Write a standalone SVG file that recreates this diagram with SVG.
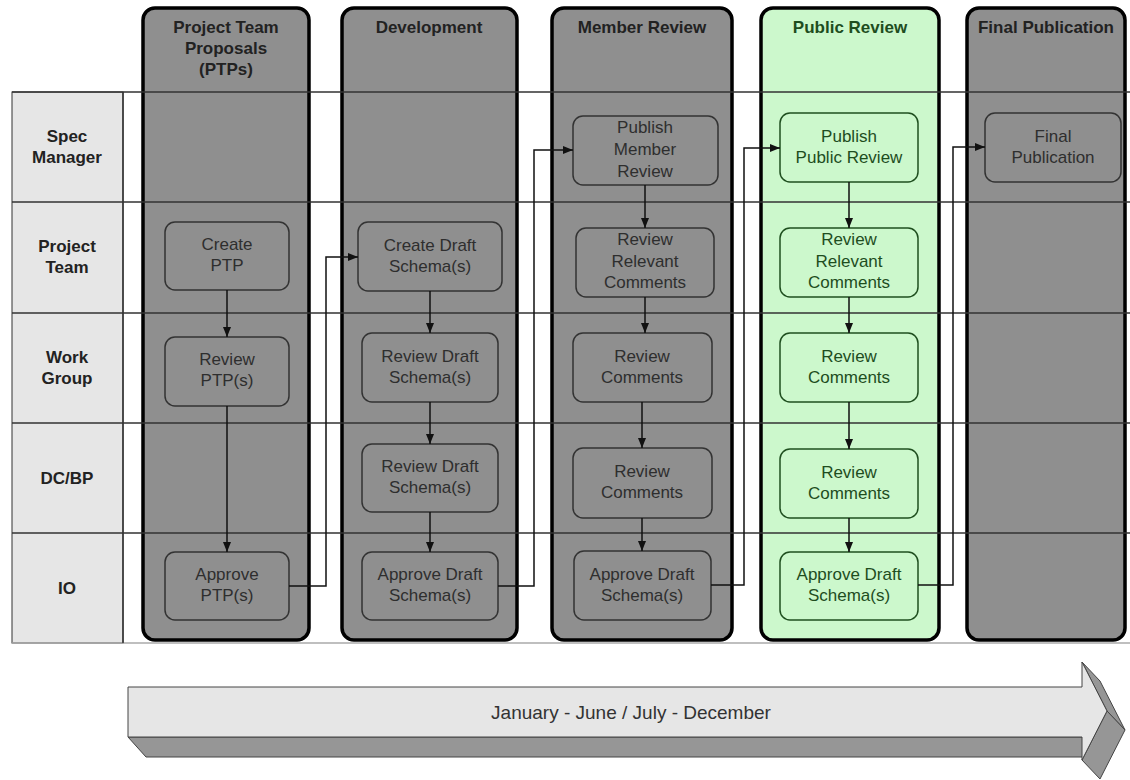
<svg xmlns="http://www.w3.org/2000/svg" width="1130" height="780" viewBox="0 0 1130 780">
<style>
.col{fill:#8f8f8f;stroke:#000;stroke-width:3.5}
.colg{fill:#ccf8cc;stroke:#000;stroke-width:3.5}
.node{fill:#8f8f8f;stroke:#333;stroke-width:1.5}
.nodeg{fill:#ccf8cc;stroke:#1f4f1f;stroke-width:1.5}
.lane{stroke:#333;stroke-width:1.5;fill:none}
.hd{font-family:"Liberation Sans",Arial,sans-serif;font-size:17px;font-weight:bold;fill:#222;text-anchor:middle}
.hdg{font-family:"Liberation Sans",Arial,sans-serif;font-size:17px;font-weight:bold;fill:#1e4d1e;text-anchor:middle}
.lb{font-family:"Liberation Sans",Arial,sans-serif;font-size:17px;font-weight:bold;fill:#222;text-anchor:middle}
.t{font-family:"Liberation Sans",Arial,sans-serif;font-size:17px;fill:#2e2e2e;text-anchor:middle}
.tg{font-family:"Liberation Sans",Arial,sans-serif;font-size:17px;fill:#1e4d1e;text-anchor:middle}
.cn{fill:none;stroke:#111;stroke-width:1.5}
</style>
<defs>
<marker id="arr" markerWidth="10" markerHeight="8" refX="10" refY="4" orient="auto" markerUnits="userSpaceOnUse"><path d="M0,0 L10,4 L0,8 z" fill="#111"/></marker>
</defs>
<rect x="0" y="0" width="1130" height="780" fill="#fff"/>

<g id="lane-labels">
<rect x="12" y="92" width="111" height="551" fill="#e6e6e6" stroke="#333" stroke-width="1"/>
<text class="lb" x="67" y="142">Spec</text>
<text class="lb" x="67" y="163">Manager</text>
<text class="lb" x="67" y="252">Project</text>
<text class="lb" x="67" y="273">Team</text>
<text class="lb" x="67" y="363">Work</text>
<text class="lb" x="67" y="384">Group</text>
<text class="lb" x="67" y="484">DC/BP</text>
<text class="lb" x="67" y="594">IO</text>
</g>

<g id="phase-ptp">
<rect class="col" x="143" y="8" width="166" height="632" rx="12"/>
<text class="hd" x="226" y="33">Project Team</text>
<text class="hd" x="226" y="54">Proposals</text>
<text class="hd" x="226" y="75">(PTPs)</text>
</g>
<g id="phase-development">
<rect class="col" x="342" y="8" width="175" height="632" rx="12"/>
<text class="hd" x="429" y="33">Development</text>
</g>
<g id="phase-member-review">
<rect class="col" x="552" y="8" width="180" height="632" rx="12"/>
<text class="hd" x="642" y="33">Member Review</text>
</g>
<g id="phase-public-review">
<rect class="colg" x="761" y="8" width="178" height="632" rx="12"/>
<text class="hdg" x="850" y="33">Public Review</text>
</g>
<g id="phase-final">
<rect class="col" x="967" y="8" width="158" height="632" rx="12"/>
<text class="hd" x="1046" y="33">Final Publication</text>
</g>

<g id="lanes">
<path class="lane" d="M12,92 H1130 M12,202 H1130 M12,313 H1130 M12,423 H1130 M12,533 H1130"/>
<path d="M12,643 H1130" stroke="#aaa" stroke-width="1.5"/>
<path class="lane" d="M123,92 V643" stroke-width="1"/>
</g>

<g id="n-create-ptp"><rect class="node" x="165" y="222" width="124" height="68" rx="10"/><text class="t" x="227" y="250">Create</text><text class="t" x="227" y="271">PTP</text></g>
<g id="n-review-ptp"><rect class="node" x="165" y="337" width="124" height="69" rx="10"/><text class="t" x="227" y="365">Review</text><text class="t" x="227" y="386">PTP(s)</text></g>
<g id="n-approve-ptp"><rect class="node" x="165" y="552" width="124" height="68" rx="10"/><text class="t" x="227" y="580">Approve</text><text class="t" x="227" y="601">PTP(s)</text></g>

<g id="n-create-draft"><rect class="node" x="358" y="222" width="144" height="69" rx="10"/><text class="t" x="430" y="251">Create Draft</text><text class="t" x="430" y="272">Schema(s)</text></g>
<g id="n-review-draft-wg"><rect class="node" x="362" y="333" width="136" height="69" rx="10"/><text class="t" x="430" y="362">Review Draft</text><text class="t" x="430" y="383">Schema(s)</text></g>
<g id="n-review-draft-dc"><rect class="node" x="362" y="444" width="136" height="68" rx="10"/><text class="t" x="430" y="472">Review Draft</text><text class="t" x="430" y="493">Schema(s)</text></g>
<g id="n-approve-draft-dev"><rect class="node" x="362" y="552" width="136" height="68" rx="10"/><text class="t" x="430" y="580">Approve Draft</text><text class="t" x="430" y="601">Schema(s)</text></g>

<g id="n-publish-member"><rect class="node" x="573" y="116" width="145" height="69" rx="10"/><text class="t" x="645" y="133">Publish</text><text class="t" x="645" y="155">Member</text><text class="t" x="645" y="177">Review</text></g>
<g id="n-rrc-member"><rect class="node" x="576" y="228" width="138" height="69" rx="10"/><text class="t" x="645" y="245">Review</text><text class="t" x="645" y="267">Relevant</text><text class="t" x="645" y="288">Comments</text></g>
<g id="n-rc-member-wg"><rect class="node" x="573" y="333" width="139" height="69" rx="10"/><text class="t" x="642" y="362">Review</text><text class="t" x="642" y="383">Comments</text></g>
<g id="n-rc-member-dc"><rect class="node" x="573" y="448" width="139" height="70" rx="10"/><text class="t" x="642" y="477">Review</text><text class="t" x="642" y="498">Comments</text></g>
<g id="n-approve-member"><rect class="node" x="574" y="551" width="137" height="69" rx="10"/><text class="t" x="642" y="580">Approve Draft</text><text class="t" x="642" y="601">Schema(s)</text></g>

<g id="n-publish-public"><rect class="nodeg" x="780" y="113" width="138" height="69" rx="10"/><text class="tg" x="849" y="142">Publish</text><text class="tg" x="849" y="163">Public Review</text></g>
<g id="n-rrc-public"><rect class="nodeg" x="780" y="228" width="138" height="69" rx="10"/><text class="tg" x="849" y="245">Review</text><text class="tg" x="849" y="267">Relevant</text><text class="tg" x="849" y="288">Comments</text></g>
<g id="n-rc-public-wg"><rect class="nodeg" x="780" y="333" width="138" height="69" rx="10"/><text class="tg" x="849" y="362">Review</text><text class="tg" x="849" y="383">Comments</text></g>
<g id="n-rc-public-dc"><rect class="nodeg" x="780" y="449" width="138" height="69" rx="10"/><text class="tg" x="849" y="478">Review</text><text class="tg" x="849" y="499">Comments</text></g>
<g id="n-approve-public"><rect class="nodeg" x="780" y="552" width="138" height="68" rx="10"/><text class="tg" x="849" y="580">Approve Draft</text><text class="tg" x="849" y="601">Schema(s)</text></g>

<g id="n-final-publication"><rect class="node" x="985" y="113" width="136" height="69" rx="10"/><text class="t" x="1053" y="142">Final</text><text class="t" x="1053" y="163">Publication</text></g>

<g id="connectors">
<path class="cn" marker-end="url(#arr)" d="M227,290 V337"/>
<path class="cn" marker-end="url(#arr)" d="M227,406 V552"/>
<path class="cn" marker-end="url(#arr)" d="M289,586 H326 V257 H358"/>
<path class="cn" marker-end="url(#arr)" d="M430,291 V333"/>
<path class="cn" marker-end="url(#arr)" d="M430,402 V444"/>
<path class="cn" marker-end="url(#arr)" d="M430,512 V552"/>
<path class="cn" marker-end="url(#arr)" d="M498,586 H534 V150 H573"/>
<path class="cn" marker-end="url(#arr)" d="M645,185 V228"/>
<path class="cn" marker-end="url(#arr)" d="M645,297 V333"/>
<path class="cn" marker-end="url(#arr)" d="M642,402 V448"/>
<path class="cn" marker-end="url(#arr)" d="M642,518 V551"/>
<path class="cn" marker-end="url(#arr)" d="M711,585 H744 V148 H780"/>
<path class="cn" marker-end="url(#arr)" d="M849,182 V228"/>
<path class="cn" marker-end="url(#arr)" d="M849,297 V333"/>
<path class="cn" marker-end="url(#arr)" d="M849,402 V449"/>
<path class="cn" marker-end="url(#arr)" d="M849,518 V552"/>
<path class="cn" marker-end="url(#arr)" d="M918,585 H953 V147 H985"/>
</g>

<g id="timeline">
<polygon points="128,737 1082,737 1100,757 146,757" fill="#969696" stroke="#444" stroke-width="1"/>
<polygon points="1082,662 1100,681 1125,730 1107,711" fill="#969696" stroke="#444" stroke-width="1"/>
<polygon points="1107,711 1125,730 1100,779 1082,760" fill="#969696" stroke="#444" stroke-width="1"/>
<polygon points="128,687 1082,687 1082,662 1107,711 1082,760 1082,737 128,737" fill="#e6e6e6" stroke="#444" stroke-width="1"/>
<text x="631" y="719" font-family="'Liberation Sans',Arial,sans-serif" font-size="19" fill="#333" text-anchor="middle">January - June / July - December</text>
</g>
</svg>
